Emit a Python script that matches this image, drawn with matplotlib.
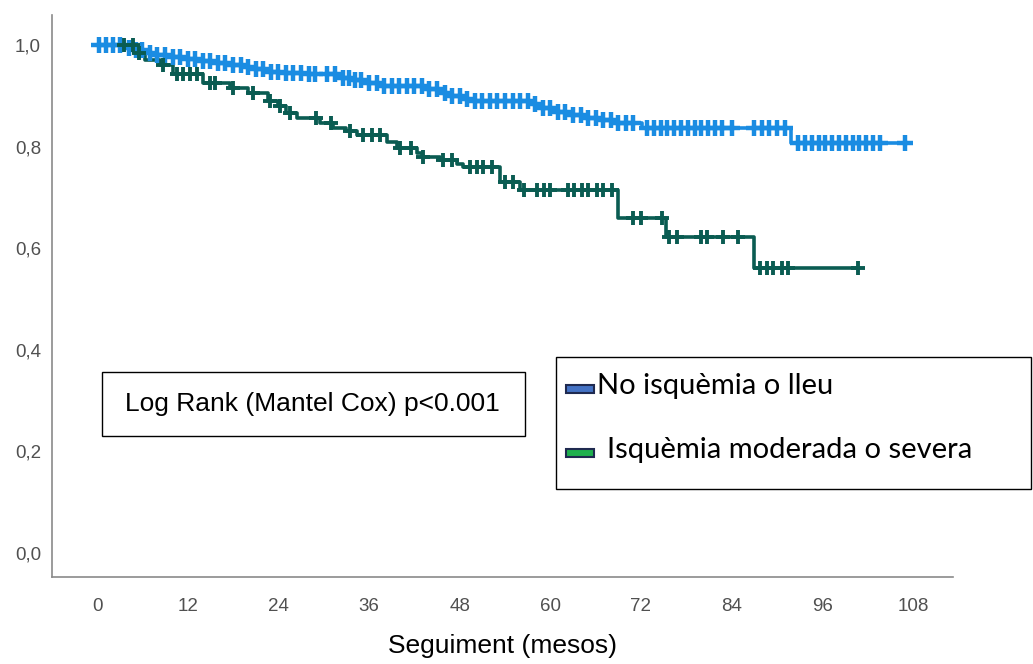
import numpy as np
import matplotlib
matplotlib.use("Agg")
import matplotlib.pyplot as plt
from matplotlib.patches import Rectangle

# Kaplan-Meier steps: time (months) where survival changes, and new value
blue_times = [0, 3.5, 5, 6.6, 8, 10, 11.5, 13.5, 15.5, 17.5, 19.5, 21, 23, 25, 28,
              32, 34, 36, 38, 44, 45.5, 47, 48.5, 50, 57.5, 59, 61, 62.5, 64.5,
              66.5, 69, 72.2, 91.8]
blue_surv = [1.0, 0.995, 0.99, 0.985, 0.98, 0.977, 0.972, 0.968, 0.964, 0.96, 0.956,
             0.952, 0.947, 0.944, 0.942, 0.936, 0.931, 0.926, 0.92, 0.914, 0.906,
             0.9, 0.894, 0.889, 0.883, 0.876, 0.869, 0.863, 0.857, 0.852, 0.847,
             0.836, 0.808]
blue_end = 107.0
blue_censored = [0.3, 1.2, 2.1, 3.0, 4.2, 5.1, 6.0, 7.0, 8.0, 9.0, 10.0, 11.0, 12.0,
                 13.0, 14.0, 15.0, 16.0, 17.0, 18.0, 19.0, 20.0, 21.0, 22.0, 23.0,
                 24.0, 25.0, 26.0, 27.0, 28.0, 28.8, 30.5, 31.5, 32.5, 33.3, 34.2, 35.0,
                 36.0, 37.0, 38.0, 39.0, 40.0, 41.0, 42.0, 43.0, 44.0, 45.0, 46.0,
                 47.0, 48.0, 49.0, 50.0, 51.0, 52.0, 53.0, 54.0, 55.0, 56.0, 57.0,
                 58.0, 59.0, 60.0, 61.0, 62.0, 63.0, 64.0, 65.0, 66.0, 67.0, 68.0,
                 69.0, 70.0, 71.0, 72.8, 73.7, 74.6, 75.5, 76.4, 77.3, 78.2, 79.1,
                 80.0, 80.9, 81.8, 82.7, 84.0, 87.0, 88.0, 89.0, 90.0, 91.0, 92.8,
                 93.7, 94.6, 95.5, 96.4, 97.3, 98.2, 99.1, 100.0, 100.9, 101.8,
                 102.7, 103.6, 107.0]

green_times = [0, 5, 6.4, 8.3, 10, 14, 17.6, 20, 22.6, 24, 25, 26.5, 29.5, 31.3, 33,
               34.4, 38.4, 39.7, 42.4, 43, 45.4, 47.7, 48.5, 53.3, 56, 68.9, 75.3,
               86.9]
green_surv = [1.0, 0.985, 0.971, 0.961, 0.942, 0.926, 0.916, 0.906, 0.889, 0.879,
              0.867, 0.857, 0.847, 0.837, 0.83, 0.823, 0.81, 0.798, 0.788, 0.78,
              0.774, 0.765, 0.759, 0.731, 0.715, 0.66, 0.623, 0.562]
green_end = 100.7
green_censored = [3.6, 4.7, 5.6, 8.7, 10.6, 11.4, 12.3, 13.2, 15.0, 15.6, 18.0, 20.7,
                  22.9, 24.2, 25.6, 29.0, 31.0, 33.5, 35.2, 36.4, 37.5, 40.1, 41.5,
                  43.2, 45.8, 47.0, 49.4, 50.3, 51.1, 52.3, 54.0, 55.1, 56.5, 58.3,
                  59.1, 60.0, 62.3, 63.1, 64.2, 65.0, 66.2, 67.0, 68.2, 71.0, 72.0,
                  74.8, 75.7, 76.8, 79.9, 80.8, 82.8, 84.8, 87.8, 88.7, 89.5, 90.7,
                  91.5, 100.7]

labels = ['No isquèmia o lleu', 'Isquèmia moderada o severa']
line_colors = ['#1a8ce2', '#0a5c52']
patch_colors = ['#4472c4', '#1fb04e']
xticks = [0, 12, 24, 36, 48, 60, 72, 84, 96, 108]
yticks = [0.0, 0.2, 0.4, 0.6, 0.8, 1.0]
stat_text = 'Log Rank (Mantel Cox) p<0.001'

W, H = 1033, 664
fig = plt.figure(figsize=(W / 100, H / 100), dpi=100)
ax = fig.add_axes([52 / W, 1 - 577 / H, (953 - 52) / W, (577 - 15) / H])


def km(ax, times, surv, end, cens, color, ms, mew):
    t = list(times) + [end]
    s = list(surv) + [surv[-1]]
    ax.step(t, s, where='post', color=color, lw=2.6, zorder=3)
    idx = np.searchsorted(times, cens, side='right') - 1
    ax.plot(cens, np.array(surv)[idx], ls='none', marker='+', ms=ms, mew=mew,
            color=color, zorder=4)


km(ax, blue_times, blue_surv, blue_end, blue_censored, line_colors[0], 11, 3.2)
km(ax, green_times, green_surv, green_end, green_censored, line_colors[1], 10, 2.8)

ax.set_xlim(-5.96, 113.3)
ax.set_ylim(-0.047, 1.059)
ax.set_xticks(xticks)
ax.set_yticks(yticks)
ax.set_yticklabels([f'{v:.1f}'.replace('.', ',') for v in yticks])
ax.tick_params(length=0, labelsize=13.5, labelcolor='#505050')
ax.tick_params(axis='x', pad=15)
ax.tick_params(axis='y', pad=8)
for lab in ax.get_xticklabels() + ax.get_yticklabels():
    lab.set_fontfamily('Liberation Sans')
for sp in ['top', 'right']:
    ax.spines[sp].set_visible(False)
for sp in ['left', 'bottom']:
    ax.spines[sp].set_color('#8a8a8a')
    ax.spines[sp].set_linewidth(1.2)
ax.set_xlabel('Seguiment (mesos)', fontsize=19, family='Liberation Sans',
              labelpad=14)


def px(x0, y0, x1, y1):
    # pixel box -> figure fraction rectangle
    return (x0 / W, 1 - y1 / H), (x1 - x0) / W, (y1 - y0) / H


# statistics box
xy, w, h = px(102, 372, 525, 436)
fig.add_artist(Rectangle(xy, w, h, transform=fig.transFigure, fill=True,
                         facecolor='white', edgecolor='black', lw=1.0, zorder=5))
fig.text(312 / W, 1 - 404 / H, stat_text, ha='center', va='center',
         fontsize=19, family='Liberation Sans', zorder=6)

# legend box
xy, w, h = px(556, 357, 1031, 489)
fig.add_artist(Rectangle(xy, w, h, transform=fig.transFigure, fill=True,
                         facecolor='white', edgecolor='black', lw=1.0, zorder=5))
for i, (lab, pc) in enumerate(zip(labels, patch_colors)):
    yc = [389, 453][i]
    xy, w, h = px(566, yc - 4, 594, yc + 4)
    fig.add_artist(Rectangle(xy, w, h, transform=fig.transFigure, facecolor=pc,
                             edgecolor='#1f2a50', lw=1.5, zorder=6))
    fig.text([597, 607][i] / W, 1 - (yc - 3) / H, lab, ha='left', va='center',
             fontsize=21, family='Lato', zorder=6)

fig.savefig('out.png', dpi=100)
